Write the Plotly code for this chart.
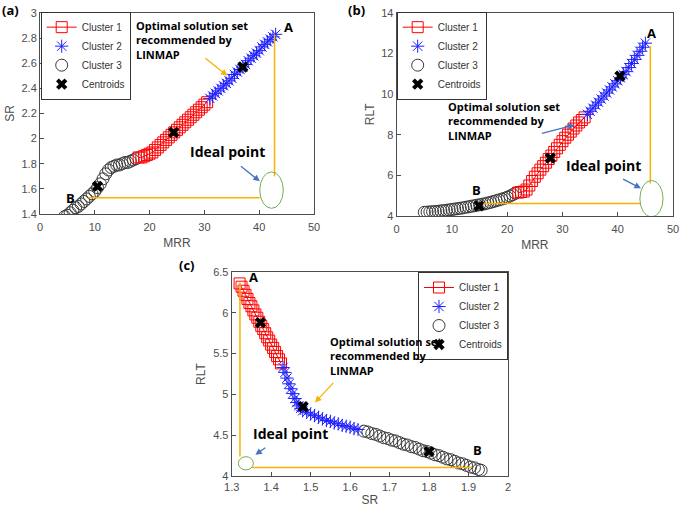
import plotly.graph_objects as go

# ---------------- Panel (a): MRR vs SR ----------------
a_c3_x = [4.5, 5, 5.5, 6, 6.5, 7, 7.5, 8, 8.5, 9, 9.5, 10, 10.5, 11, 11.5, 12, 12.5, 13, 13.5, 14, 14.5, 15, 15.5, 16, 16.5, 17, 17.5]
a_c3_y = [1.38, 1.39, 1.41, 1.43, 1.45, 1.46, 1.48, 1.50, 1.52, 1.54, 1.56, 1.58, 1.61, 1.64, 1.68, 1.72, 1.75, 1.77, 1.78, 1.79, 1.79, 1.80, 1.81, 1.81, 1.82, 1.83, 1.84]
a_c1_x = [18, 18.5, 19, 19.5, 20, 20.5, 21, 21.5, 22, 22.5, 23, 23.5, 24, 24.5, 25, 25.5, 26, 26.5, 27, 27.5, 28, 28.5, 29, 29.5, 30, 30.5]
a_c1_y = [1.85, 1.85, 1.86, 1.87, 1.88, 1.89, 1.91, 1.93, 1.95, 1.97, 1.99, 2.01, 2.03, 2.05, 2.07, 2.09, 2.11, 2.13, 2.15, 2.17, 2.19, 2.21, 2.23, 2.25, 2.27, 2.29]
a_c2_x = [31, 31.5, 32, 32.5, 33, 33.5, 34, 34.5, 35, 35.5, 36, 36.5, 37, 37.5, 38, 38.5, 39, 39.5, 40, 40.5, 41, 41.5, 42, 42.5, 43]
a_c2_y = [2.32, 2.34, 2.36, 2.38, 2.40, 2.42, 2.44, 2.46, 2.48, 2.51, 2.53, 2.55, 2.57, 2.59, 2.62, 2.64, 2.66, 2.68, 2.70, 2.73, 2.75, 2.77, 2.79, 2.81, 2.83]
a_cent_x = [10.5, 24.4, 37.0]
a_cent_y = [1.62, 2.05, 2.57]

# ---------------- Panel (b): MRR vs RLT ----------------
b_c3_x = [5, 5.5, 6, 6.5, 7, 7.5, 8, 8.5, 9, 9.5, 10, 10.5, 11, 11.5, 12, 12.5, 13, 13.5, 14, 14.5, 15, 15.5, 16, 16.5, 17, 17.5, 18, 18.5, 19, 19.5, 20, 20.5, 21, 21.5]
b_c3_y = [4.18, 4.19, 4.20, 4.21, 4.22, 4.23, 4.25, 4.26, 4.28, 4.30, 4.32, 4.34, 4.36, 4.38, 4.40, 4.43, 4.45, 4.48, 4.50, 4.53, 4.55, 4.58, 4.60, 4.64, 4.67, 4.71, 4.75, 4.79, 4.83, 4.87, 4.92, 4.98, 5.05, 5.12]
b_c1_x = [22, 22.5, 23, 23.5, 24, 24.5, 25, 25.5, 26, 26.5, 27, 27.5, 28, 28.5, 29, 29.5, 30, 30.5, 31, 31.5, 32, 32.5, 33, 33.5, 34]
b_c1_y = [5.15, 5.18, 5.20, 5.30, 5.50, 5.72, 5.93, 6.10, 6.28, 6.45, 6.62, 6.80, 6.97, 7.15, 7.33, 7.50, 7.68, 7.85, 8.00, 8.15, 8.30, 8.45, 8.60, 8.72, 8.85]
b_c2_x = [34.5, 35, 35.5, 36, 36.5, 37, 37.5, 38, 38.5, 39, 39.5, 40, 40.5, 41, 41.5, 42, 42.5, 43, 43.5, 44, 44.5, 45]
b_c2_y = [9.00, 9.15, 9.30, 9.45, 9.60, 9.75, 9.90, 10.05, 10.20, 10.35, 10.50, 10.65, 10.80, 10.95, 11.10, 11.30, 11.50, 11.70, 11.90, 12.10, 12.30, 12.50]
b_cent_x = [14.9, 27.8, 40.4]
b_cent_y = [4.50, 6.85, 10.88]

# ---------------- Panel (c): SR vs RLT ----------------
c_c1_x = [1.320, 1.325, 1.330, 1.335, 1.340, 1.345, 1.350, 1.355, 1.360, 1.365, 1.370, 1.375, 1.380, 1.385, 1.390, 1.395, 1.400, 1.405, 1.410, 1.415, 1.420, 1.425]
c_c1_y = [6.36, 6.32, 6.27, 6.22, 6.17, 6.12, 6.08, 6.03, 5.98, 5.94, 5.89, 5.84, 5.80, 5.75, 5.70, 5.66, 5.61, 5.57, 5.52, 5.47, 5.43, 5.38]
c_c2_x = [1.430, 1.435, 1.440, 1.445, 1.450, 1.455, 1.460, 1.465, 1.470, 1.475, 1.480, 1.490, 1.500, 1.510, 1.520, 1.530, 1.540, 1.550, 1.560, 1.570, 1.580, 1.590, 1.600, 1.610, 1.620]
c_c2_y = [5.33, 5.27, 5.20, 5.13, 5.07, 5.01, 4.95, 4.90, 4.86, 4.83, 4.80, 4.78, 4.76, 4.74, 4.72, 4.70, 4.68, 4.67, 4.65, 4.64, 4.62, 4.61, 4.60, 4.58, 4.57]
c_c3_x = [1.635, 1.645, 1.655, 1.665, 1.675, 1.685, 1.695, 1.705, 1.715, 1.725, 1.735, 1.745, 1.755, 1.765, 1.775, 1.785, 1.795, 1.805, 1.815, 1.825, 1.835, 1.845, 1.855, 1.865, 1.875, 1.885, 1.895, 1.905, 1.915, 1.925, 1.932]
c_c3_y = [4.55, 4.54, 4.52, 4.51, 4.49, 4.47, 4.46, 4.44, 4.43, 4.41, 4.39, 4.38, 4.36, 4.35, 4.33, 4.31, 4.30, 4.28, 4.26, 4.25, 4.23, 4.21, 4.20, 4.18, 4.16, 4.15, 4.13, 4.11, 4.10, 4.08, 4.07]
c_cent_x = [1.373, 1.481, 1.800]
c_cent_y = [5.88, 4.85, 4.30]

names = ["Cluster 1", "Cluster 2", "Cluster 3", "Centroids"]

RED = "#ff0000"
BLUE = "#1f1fff"
DARK = "#3a3a3a"
YEL = "#f5b400"
ARROWBLUE = "#4472c4"
GREEN = "#70b050"
AXIS = "#4d4d4d"

fig = go.Figure()

panels = [
    ("x", "y", "legend", (a_c1_x, a_c1_y), (a_c2_x, a_c2_y), (a_c3_x, a_c3_y), (a_cent_x, a_cent_y)),
    ("x2", "y2", "legend2", (b_c1_x, b_c1_y), (b_c2_x, b_c2_y), (b_c3_x, b_c3_y), (b_cent_x, b_cent_y)),
    ("x3", "y3", "legend3", (c_c1_x, c_c1_y), (c_c2_x, c_c2_y), (c_c3_x, c_c3_y), (c_cent_x, c_cent_y)),
]

for xa, ya, lg, c1, c2, c3, ce in panels:
    fig.add_trace(go.Scatter(x=c3[0], y=c3[1], mode="markers", name=names[2], legend=lg, legendrank=3,
                             xaxis=xa, yaxis=ya,
                             marker=dict(symbol="circle-open", size=12, color=DARK, line=dict(width=1))))
    fig.add_trace(go.Scatter(x=c1[0], y=c1[1], mode="lines+markers", name=names[0], legend=lg, legendrank=1,
                             xaxis=xa, yaxis=ya, line=dict(color=RED, width=1),
                             marker=dict(symbol="square-open", size=11, color=RED, line=dict(width=1))))
    fig.add_trace(go.Scatter(x=c2[0], y=c2[1], mode="markers", name=names[1], legend=lg, legendrank=2,
                             xaxis=xa, yaxis=ya,
                             marker=dict(symbol="asterisk-open", size=11, color=BLUE, line=dict(width=1))))
    fig.add_trace(go.Scatter(x=ce[0], y=ce[1], mode="markers", name=names[3], legend=lg, legendrank=4,
                             xaxis=xa, yaxis=ya,
                             marker=dict(symbol="x", size=10, color="black", line=dict(width=0))))

axis_common = dict(showline=True, linecolor=AXIS, linewidth=1, mirror=True, ticks="inside", ticklen=4,
                   tickcolor=AXIS, showgrid=False, zeroline=False, automargin=False,
                   tickfont=dict(family="Liberation Sans, Arial", size=11, color=AXIS),
                   title_font=dict(family="Liberation Sans, Arial", size=12, color=AXIS))

leg_common = dict(bgcolor="white", bordercolor="#333", borderwidth=1,
                  font=dict(family="Liberation Sans, Arial", size=10, color="#333"),
                  xanchor="left", yanchor="top", tracegroupgap=0, itemwidth=30)

fig.update_layout(
    template="none",
    width=685, height=507, autosize=False,
    margin=dict(l=0, r=0, t=0, b=0, autoexpand=False),
    paper_bgcolor="white", plot_bgcolor="white",
    xaxis=dict(domain=[0.0584, 0.4584], range=[0, 50], dtick=10, anchor="y", title_text="MRR",
               title_standoff=6, ticklabelstandoff=3, **axis_common),
    yaxis=dict(domain=[0.5779, 0.9744], range=[1.4, 3], dtick=0.2, anchor="x", title_text="SR",
               title_standoff=4, **axis_common),
    xaxis2=dict(domain=[0.5791, 0.9825], range=[0, 50], dtick=10, anchor="y2", title_text="MRR",
                title_standoff=6, ticklabelstandoff=3, **axis_common),
    yaxis2=dict(domain=[0.574, 0.975], range=[4, 14], dtick=2, anchor="x2", title_text="RLT",
                title_standoff=4, **axis_common),
    xaxis3=dict(domain=[0.3382, 0.7416], range=[1.3, 2], dtick=0.1, anchor="y3", title_text="SR",
                title_standoff=6, ticklabelstandoff=1, **axis_common),
    yaxis3=dict(domain=[0.0611, 0.4635], range=[4, 6.5], dtick=0.5, anchor="x3", title_text="RLT",
                title_standoff=4, **axis_common),
    legend=dict(x=0.0594, y=0.977, **leg_common),
    legend2=dict(x=0.5791, y=0.977, **leg_common),
    legend3=dict(x=0.7416, y=0.4635, **{**leg_common, "xanchor": "right"}),
    showlegend=True,
)

# yellow guide lines and ideal-point ellipses
shapes = [
    dict(type="line", xref="x", yref="y", x0=42.8, y0=2.83, x1=42.8, y1=1.70, line=dict(color=YEL, width=1.5)),
    dict(type="line", xref="x", yref="y", x0=8.8, y0=1.53, x1=40.1, y1=1.53, line=dict(color=YEL, width=1.5)),
    dict(type="circle", xref="x", yref="y", x0=40.1, y0=1.445, x1=44.4, y1=1.735, line=dict(color=GREEN, width=1)),
    dict(type="line", xref="x2", yref="y2", x0=45.9, y0=12.35, x1=45.9, y1=5.6, line=dict(color=YEL, width=1.5)),
    dict(type="line", xref="x2", yref="y2", x0=15.7, y0=4.62, x1=44.1, y1=4.62, line=dict(color=YEL, width=1.5)),
    dict(type="circle", xref="x2", yref="y2", x0=44.0, y0=3.95, x1=48.2, y1=5.75, line=dict(color=GREEN, width=1)),
    dict(type="line", xref="x3", yref="y3", x0=1.321, y0=6.37, x1=1.321, y1=4.24, line=dict(color=YEL, width=1.5)),
    dict(type="line", xref="x3", yref="y3", x0=1.352, y0=4.106, x1=1.907, y1=4.106, line=dict(color=YEL, width=1.5)),
    dict(type="circle", xref="x3", yref="y3", x0=1.317, y0=4.075, x1=1.355, y1=4.237, line=dict(color=GREEN, width=1)),
]
fig.update_layout(shapes=shapes)

BOLD = "Open Sans, Noto Sans, sans-serif"
ann = []
def txt(xr, yr, x, y, t, size, xanchor="center"):
    ann.append(dict(xref=xr, yref=yr, x=x, y=y, text=t, showarrow=False, xanchor=xanchor, yanchor="middle",
                    align="left", font=dict(family=BOLD, size=size, color="black")))

def arrow(xr, yr, x0, y0, x1, y1, color):
    ann.append(dict(xref=xr, yref=yr, axref=xr, ayref=yr, x=x1, y=y1, ax=x0, ay=y0, text="",
                    showarrow=True, arrowhead=2, arrowsize=1, arrowwidth=1.3, arrowcolor=color))

opt = "<b>Optimal solution set<br>recommended by<br>LINMAP</b>"
# panel a
txt("x", "y", 17.2, 2.785, opt, 11, "left")
txt("x", "y", 34.2, 1.895, "<b>Ideal point</b>", 14)
txt("x", "y", 45.3, 2.89, "<b>A</b>", 13)
txt("x", "y", 5.6, 1.525, "<b>B</b>", 13)
arrow("x", "y", 29.9, 2.65, 34.2, 2.50, YEL)
arrow("x", "y", 36.4, 1.79, 40.1, 1.66, ARROWBLUE)
# panel b (text placed just below the legend box)
txt("x2", "y2", 9.0, 8.65, opt, 11, "left")
txt("x2", "y2", 37.5, 6.5, "<b>Ideal point</b>", 14)
txt("x2", "y2", 46.1, 13.0, "<b>A</b>", 13)
txt("x2", "y2", 14.5, 5.3, "<b>B</b>", 13)
arrow("x2", "y2", 26.0, 8.05, 32.2, 8.48, ARROWBLUE)
arrow("x2", "y2", 40.7, 5.85, 44.2, 5.36, ARROWBLUE)
# panel c
txt("x3", "y3", 1.545, 5.475, opt, 11, "left")
txt("x3", "y3", 1.448, 4.52, "<b>Ideal point</b>", 14)
txt("x3", "y3", 1.356, 6.44, "<b>A</b>", 13)
txt("x3", "y3", 1.924, 4.32, "<b>B</b>", 13)
arrow("x3", "y3", 1.561, 5.16, 1.511, 4.90, YEL)
arrow("x3", "y3", 1.389, 4.36, 1.360, 4.26, ARROWBLUE)

# panel labels
for t, x, y in [("(a)", 0.0, 0.98), ("(b)", 0.505, 0.98), ("(c)", 0.258, 0.477)]:
    ann.append(dict(xref="paper", yref="paper", x=x, y=y, text="<b>%s</b>" % t, showarrow=False,
                    xanchor="left", yanchor="middle", font=dict(family=BOLD, size=13, color="black")))

fig.update_layout(annotations=ann)

fig.write_html("out.html", config={"displayModeBar": False},
               post_script="document.body.style.margin='0px';")
